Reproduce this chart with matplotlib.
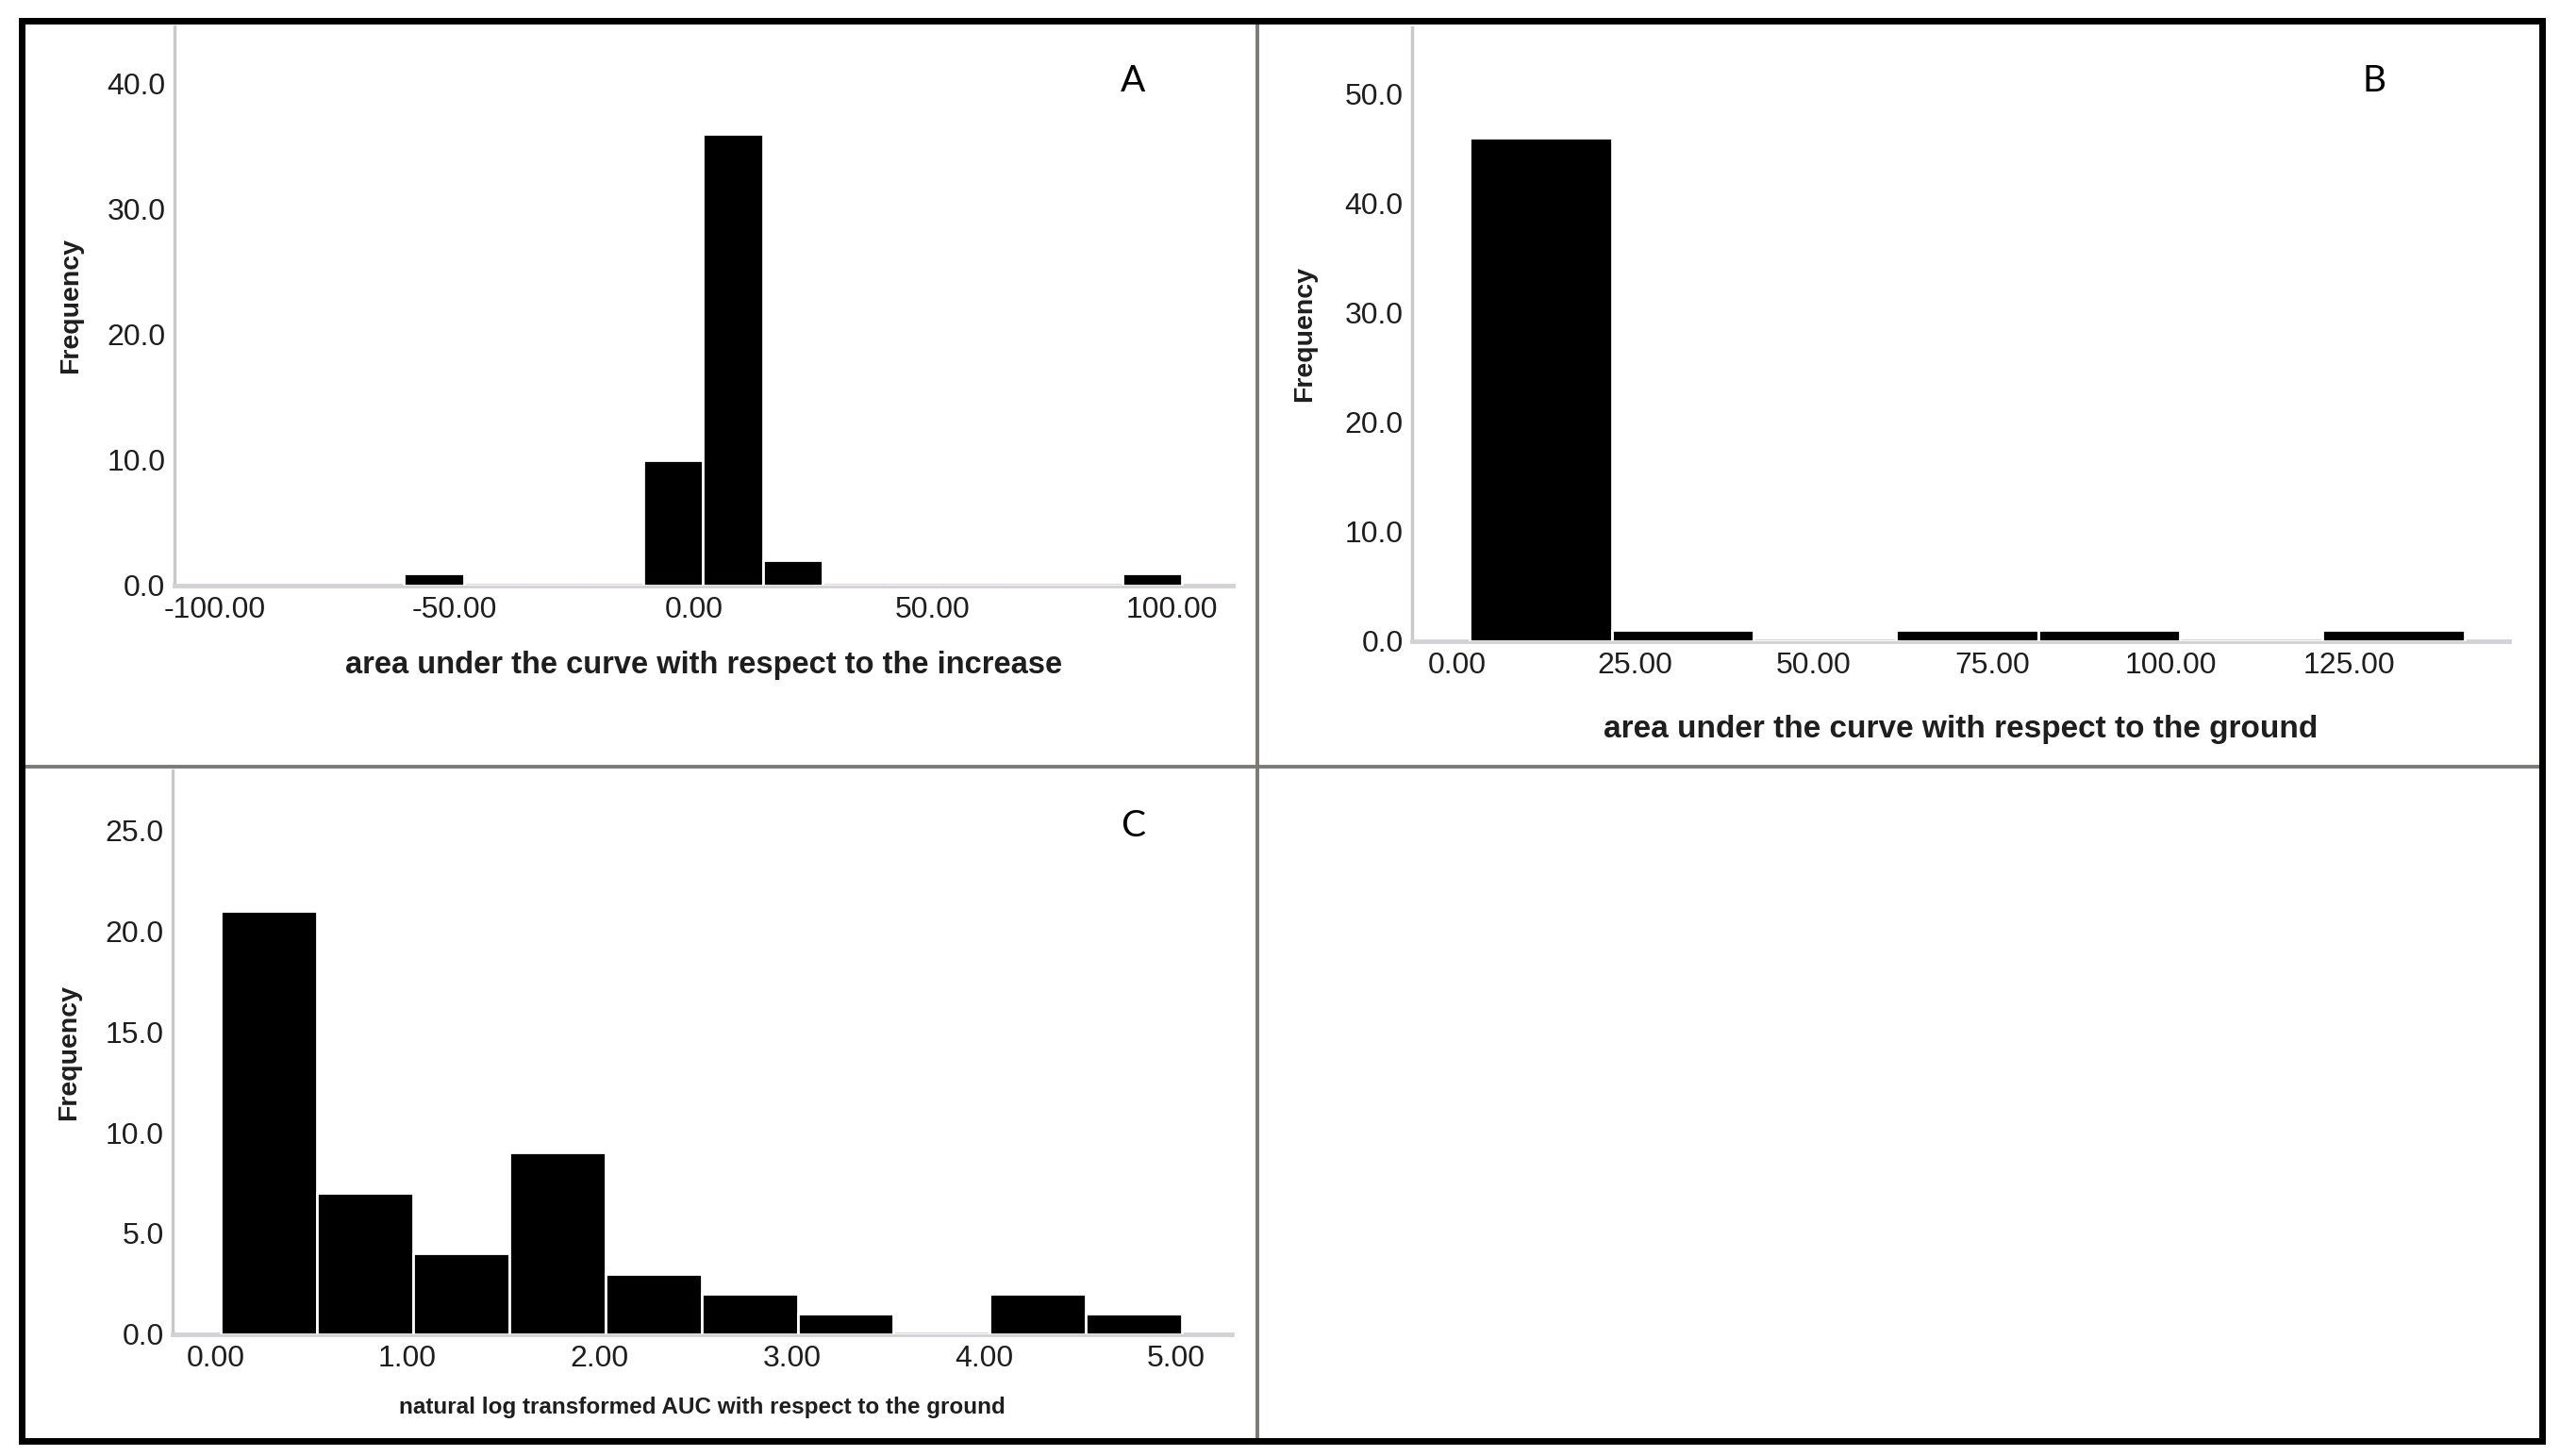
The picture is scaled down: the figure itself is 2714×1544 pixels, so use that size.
import matplotlib
matplotlib.use("Agg")
import matplotlib.pyplot as plt
from matplotlib.lines import Line2D

plt.rcParams['font.family'] = ['Liberation Sans', 'DejaVu Sans']

# data (histogram bins)
a_edges = [-60.5, -48.0, -35.5, -23.0, -10.5, 2.0, 14.5, 27.0, 39.5, 52.0, 64.5, 77.0, 89.5]
a_counts = [1, 0, 0, 0, 10, 36, 2, 0, 0, 0, 0, 0, 1]
a_width = 12.5
a_ticks = [-100, -50, 0, 50, 100]

b_edges = [1.8, 21.7, 41.6, 61.5, 81.4, 101.3, 121.2]
b_counts = [46, 1, 0, 1, 1, 0, 1]
b_width = 19.9
b_ticks = [0, 25, 50, 75, 100, 125]

c_edges = [0.03, 0.53, 1.03, 1.53, 2.03, 2.53, 3.03, 3.53, 4.03, 4.53]
c_counts = [21, 7, 4, 9, 3, 2, 1, 0, 2, 1]
c_width = 0.5
c_ticks = [0, 1, 2, 3, 4, 5]

fig = plt.figure(figsize=(27.14, 15.44), dpi=100)
fig.patch.set_facecolor('white')

axis_grey = '#c9c9c9'
text_col = '#1e1e1e'


def hist_panel(rect, edges, counts, width, xlim, ylim, xticks, yticks, fmt_x,
               xlabel, xlabel_size, xlabel_y, letter):
    ax = fig.add_axes(rect)
    ax.bar(edges, counts, width=width, align='edge', color='black',
           edgecolor='white', linewidth=2.0, zorder=3)
    ax.set_xlim(*xlim)
    ax.set_ylim(*ylim)
    ax.set_xticks(xticks)
    ax.set_xticklabels([fmt_x.format(t) for t in xticks])
    ax.set_yticks(yticks)
    ax.set_yticklabels(['{:.1f}'.format(t) for t in yticks])
    for s in ['top', 'right']:
        ax.spines[s].set_visible(False)
    ax.spines['left'].set_color(axis_grey)
    ax.spines['left'].set_linewidth(2.5)
    ax.spines['bottom'].set_color('#d4d2d6')
    ax.spines['bottom'].set_linewidth(3.5)
    ax.tick_params(axis='both', length=0, labelsize=23, colors=text_col)
    ax.tick_params(axis='x', pad=8)
    ax.tick_params(axis='y', pad=7)
    ax.text(-0.098, 0.5, 'Frequency', transform=ax.transAxes, rotation=90,
            ha='center', va='center', fontsize=20.5, fontweight='bold', color=text_col)
    ax.text(0.5, xlabel_y, xlabel, transform=ax.transAxes, ha='center', va='center',
            fontsize=xlabel_size, fontweight='bold', color=text_col)
    fig.text(letter[1], letter[2], letter[0], ha='center', va='center',
             fontsize=28, family='Lato', color='black')
    return ax


hist_panel([0.0682, 0.5978, 0.4133, 0.3842], a_edges, a_counts, a_width,
           (-108.4, 112.6), (0, 44.6), a_ticks, [0, 10, 20, 30, 40], '{:.2f}',
           'area under the curve with respect to the increase', 23.5, -0.143,
           ('A', 1201 / 2714, 1 - 86 / 1544))

hist_panel([0.5517, 0.5596, 0.4285, 0.4217], b_edges, b_counts, b_width,
           (-6.2, 147.4), (0, 56.1), b_ticks, [0, 10, 20, 30, 40, 50], '{:.2f}',
           'area under the curve with respect to the ground', 24, -0.143,
           ('B', 2517 / 2714, 1 - 86 / 1544))

hist_panel([0.0676, 0.0838, 0.4136, 0.3873], c_edges, c_counts, c_width,
           (-0.22, 5.29), (0, 28.0), c_ticks, [0, 5, 10, 15, 20, 25], '{:.2f}',
           'natural log transformed AUC with respect to the ground', 17.5, -0.130,
           ('C', 1201 / 2714, 1 - 876 / 1544))

# panel dividers and outer frame
x0, x1 = 22.7 / 2714, 2695 / 2714
y0, y1 = 1 - 1528 / 1544, 1 - 21.7 / 1544
xm, ym = 1333 / 2714, 1 - 812.7 / 1544
div_col = '#7b7b74'
fig.add_artist(Line2D([xm, xm], [y0, y1], transform=fig.transFigure,
                      color=div_col, linewidth=2.8))
fig.add_artist(Line2D([x0, x1], [ym, ym], transform=fig.transFigure,
                      color=div_col, linewidth=2.8))
fig.add_artist(Line2D([x0, x1, x1, x0, x0], [y0, y0, y1, y1, y0],
                      transform=fig.transFigure, color='black', linewidth=5.0,
                      solid_joinstyle='miter'))

fig.savefig('out.png', dpi=100, facecolor='white')
